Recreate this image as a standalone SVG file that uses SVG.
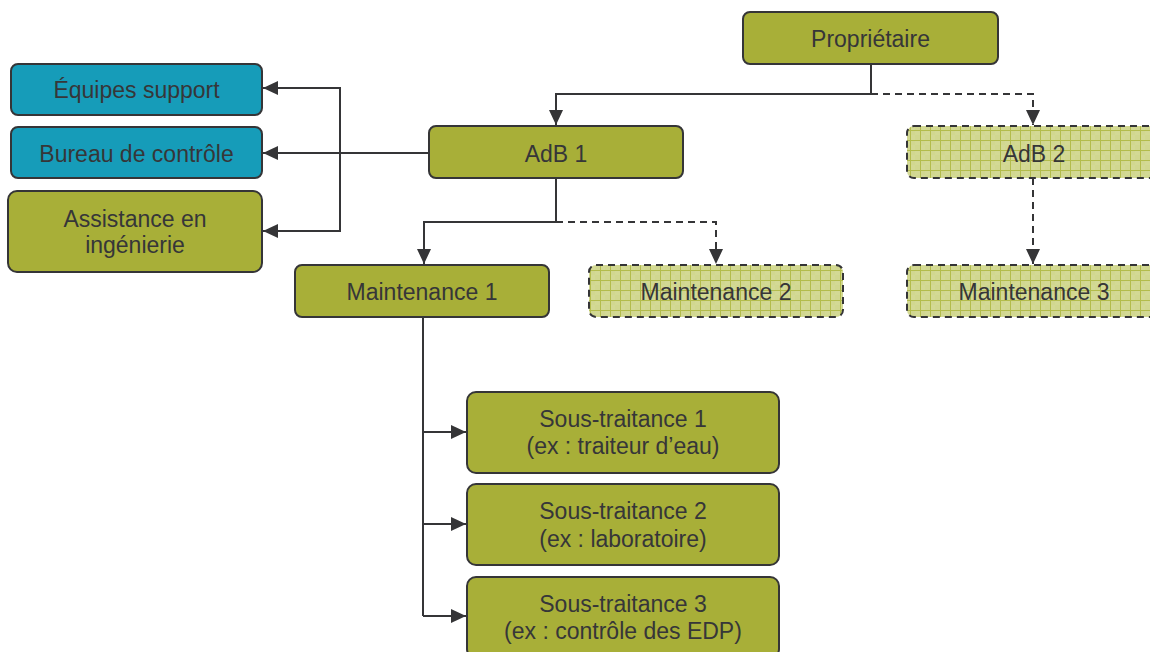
<svg xmlns="http://www.w3.org/2000/svg" width="1150" height="652" viewBox="0 0 1150 652">
<style>
.box{stroke:#353537;stroke-width:2}
.g{fill:#a8af38}
.b{fill:#169cb9}
.p{fill:url(#grid);stroke-dasharray:7 5}
.t{font-family:"Liberation Sans",Arial,sans-serif;font-size:23px;fill:#363638;text-anchor:middle}
.c{fill:none;stroke:#353537;stroke-width:2}
.d{stroke-dasharray:7 5}
</style>
<defs>
<pattern id="grid" width="10" height="10" patternUnits="userSpaceOnUse">
<rect width="10" height="10" fill="#d3d995"/>
<rect x="0" y="0" width="5" height="5" fill="#cfd58c" opacity="0.5"/>
<rect x="5" y="5" width="5" height="5" fill="#cfd58c" opacity="0.5"/>
<path d="M0 0.5H10M0.5 0V10" stroke="#b3bc4c" stroke-width="1"/>
</pattern>
<marker id="ah" viewBox="0 0 15 14" refX="15" refY="7" markerWidth="15" markerHeight="14" markerUnits="userSpaceOnUse" orient="auto">
<path d="M0 0L15 7L0 14Z" fill="#353537"/>
</marker>
</defs>
<g id="connectors">
<path class="c" d="M871 64V94H556V125" marker-end="url(#ah)"/>
<path class="c d" d="M871 94H1033V125" marker-end="url(#ah)"/>
<path class="c d" d="M1033 178V264" marker-end="url(#ah)"/>
<path class="c" d="M556 178V222H424V264" marker-end="url(#ah)"/>
<path class="c d" d="M556 222H716V264" marker-end="url(#ah)"/>
<path class="c" d="M429 153H263" marker-end="url(#ah)"/>
<path class="c" d="M340 153V88H263" marker-end="url(#ah)"/>
<path class="c" d="M340 153V231H263" marker-end="url(#ah)"/>
<path class="c" d="M423 317V616"/>
<path class="c" d="M423 432H466" marker-end="url(#ah)"/>
<path class="c" d="M423 524H466" marker-end="url(#ah)"/>
<path class="c" d="M423 616H466" marker-end="url(#ah)"/>
</g>
<g id="proprietaire"><rect class="box g" x="743" y="12" width="255" height="52" rx="7"/><text class="t" x="870.5" y="47">Propriétaire</text></g>
<g id="adb1"><rect class="box g" x="429" y="126" width="254" height="52" rx="7"/><text class="t" x="556" y="162">AdB 1</text></g>
<g id="adb2"><rect class="box p" x="907" y="126" width="255" height="52" rx="7"/><text class="t" x="1034" y="162">AdB 2</text></g>
<g id="equipes"><rect class="box b" x="11" y="64" width="251" height="51" rx="7"/><text class="t" x="136.5" y="98">Équipes support</text></g>
<g id="bureau"><rect class="box b" x="11" y="127" width="251" height="51" rx="7"/><text class="t" x="136.5" y="162">Bureau de contrôle</text></g>
<g id="assistance"><rect class="box g" x="8" y="191" width="254" height="81" rx="9"/><text class="t" x="135" y="227">Assistance en</text><text class="t" x="135" y="253">ingénierie</text></g>
<g id="maintenance1"><rect class="box g" x="295" y="265" width="254" height="52" rx="7"/><text class="t" x="422" y="300">Maintenance 1</text></g>
<g id="maintenance2"><rect class="box p" x="589" y="265" width="254" height="52" rx="7"/><text class="t" x="716" y="300">Maintenance 2</text></g>
<g id="maintenance3"><rect class="box p" x="907" y="265" width="255" height="52" rx="7"/><text class="t" x="1034" y="300">Maintenance 3</text></g>
<g id="st1"><rect class="box g" x="467" y="392" width="312" height="81" rx="9"/><text class="t" x="623" y="427">Sous-traitance 1</text><text class="t" x="623" y="454">(ex : traiteur d’eau)</text></g>
<g id="st2"><rect class="box g" x="467" y="484" width="312" height="81" rx="9"/><text class="t" x="623" y="519">Sous-traitance 2</text><text class="t" x="623" y="547">(ex : laboratoire)</text></g>
<g id="st3"><rect class="box g" x="467" y="577" width="312" height="81" rx="9"/><text class="t" x="623" y="612">Sous-traitance 3</text><text class="t" x="623" y="639">(ex : contrôle des EDP)</text></g>
</svg>
